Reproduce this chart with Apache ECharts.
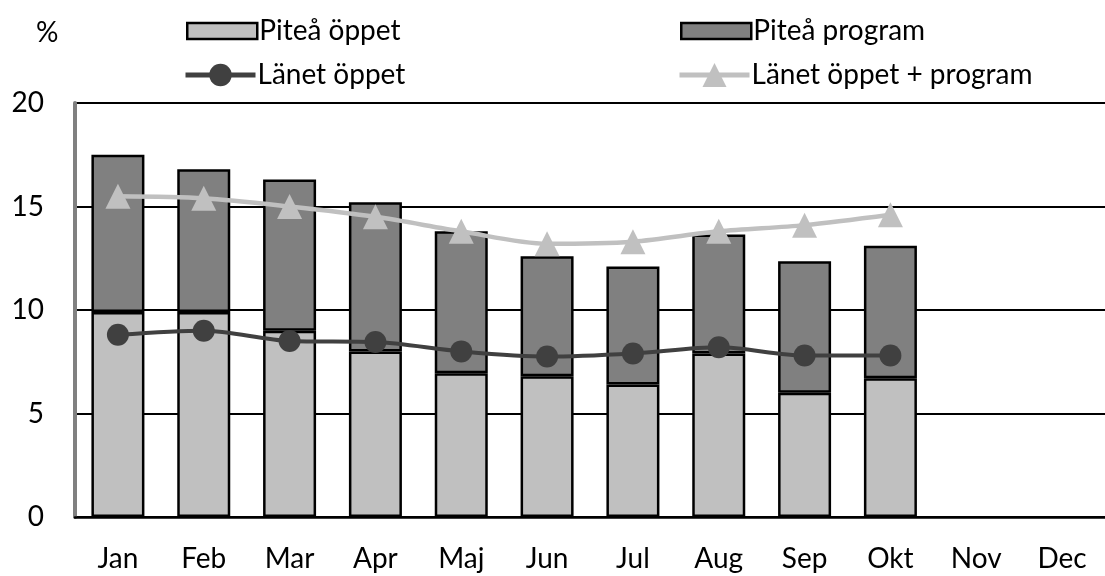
<!DOCTYPE html>
<html>
<head>
<meta charset="utf-8">
<script src="https://cdn.jsdelivr.net/npm/echarts@6/dist/echarts.min.js"></script>
<style>
html,body{margin:0;padding:0;background:#fff;}
#c{width:1105px;height:576px;}
</style>
</head>
<body>
<div id="c"></div>
<script>
const months = ['Jan','Feb','Mar','Apr','Maj','Jun','Jul','Aug','Sep','Okt','Nov','Dec'];
const piteaOppet   = [9.9, 9.9, 9.0, 8.0, 6.95, 6.8, 6.4, 7.9, 6.0, 6.7, null, null];
const piteaProgram = [7.6, 6.9, 7.3, 7.2, 6.85, 5.8, 5.7, 5.75, 6.35, 6.4, null, null];
const lanetOppet   = [8.8, 9.0, 8.5, 8.45, 8.0, 7.75, 7.9, 8.2, 7.8, 7.8, null, null];
const lanetOppetProgram = [15.5, 15.4, 15.0, 14.5, 13.8, 13.2, 13.3, 13.8, 14.1, 14.6, null, null];
const yTicks = [0, 5, 10, 15, 20];

const FONT = 'Lato';
const FS = 28;
const chart = echarts.init(document.getElementById('c'));
const legendBase = {
  itemWidth: 70, itemHeight: 16, itemGap: 10,
  textStyle: {fontFamily: FONT, fontSize: FS, color: '#000', padding: [0, 0, 0, -3]}
};
chart.setOption({
  animation: false,
  textStyle: {fontFamily: FONT},
  legend: [
    Object.assign({}, legendBase, {left: 181, top: 12, icon: 'rect',
      data: [{name: 'Piteå öppet', itemStyle: {borderColor: '#000', borderWidth: 2.5}}]}),
    Object.assign({}, legendBase, {left: 675, top: 12, icon: 'rect',
      data: [{name: 'Piteå program', itemStyle: {borderColor: '#000', borderWidth: 2.5}}]}),
    Object.assign({}, legendBase, {left: 178, top: 56, itemHeight: 28,
      data: [{name: 'Länet öppet', lineStyle: {width: 5}}]}),
    Object.assign({}, legendBase, {left: 672, top: 56, itemHeight: 30,
      data: [{name: 'Länet öppet + program', lineStyle: {width: 5}}]})
  ],
  graphic: [{
    type: 'text', left: 36, top: 19,
    style: {text: '%', fontFamily: FONT, fontSize: FS, fill: '#000'}
  }],
  grid: {left: 75, right: -13, top: 103, bottom: 59, containLabel: false},
  xAxis: {
    type: 'category', data: months,
    axisLine: {show: true, lineStyle: {color: '#000', width: 2.5}},
    axisTick: {show: false},
    axisLabel: {color: '#000', fontSize: FS, fontFamily: FONT, margin: 28}
  },
  yAxis: {
    type: 'value', min: 0, max: 20, interval: 5,
    axisLine: {show: true, lineStyle: {color: '#808080', width: 4}},
    axisTick: {show: false},
    axisLabel: {color: '#000', fontSize: FS, fontFamily: FONT, margin: 31,
      formatter: v => yTicks.includes(v) ? String(v) : ''},
    splitLine: {show: true, lineStyle: {color: '#000', width: 2}}
  },
  series: [
    {
      name: 'Piteå öppet', type: 'bar', stack: 'p', data: piteaOppet,
      barWidth: 53,
      itemStyle: {color: '#c0c0c0', borderColor: '#000', borderWidth: 2.5}
    },
    {
      name: 'Piteå program', type: 'bar', stack: 'p', data: piteaProgram,
      barWidth: 53,
      itemStyle: {color: '#808080', borderColor: '#000', borderWidth: 2.5}
    },
    {
      name: 'Länet öppet', type: 'line', data: lanetOppet, smooth: 0.3,
      symbol: 'circle', symbolSize: 22, z: 5,
      lineStyle: {color: '#404040', width: 4},
      itemStyle: {color: '#404040'}
    },
    {
      name: 'Länet öppet + program', type: 'line', data: lanetOppetProgram, smooth: 0.3,
      symbol: 'triangle', symbolSize: 25, z: 5,
      lineStyle: {color: '#c0c0c0', width: 4.5},
      itemStyle: {color: '#c0c0c0'}
    }
  ]
});
</script>
</body>
</html>
